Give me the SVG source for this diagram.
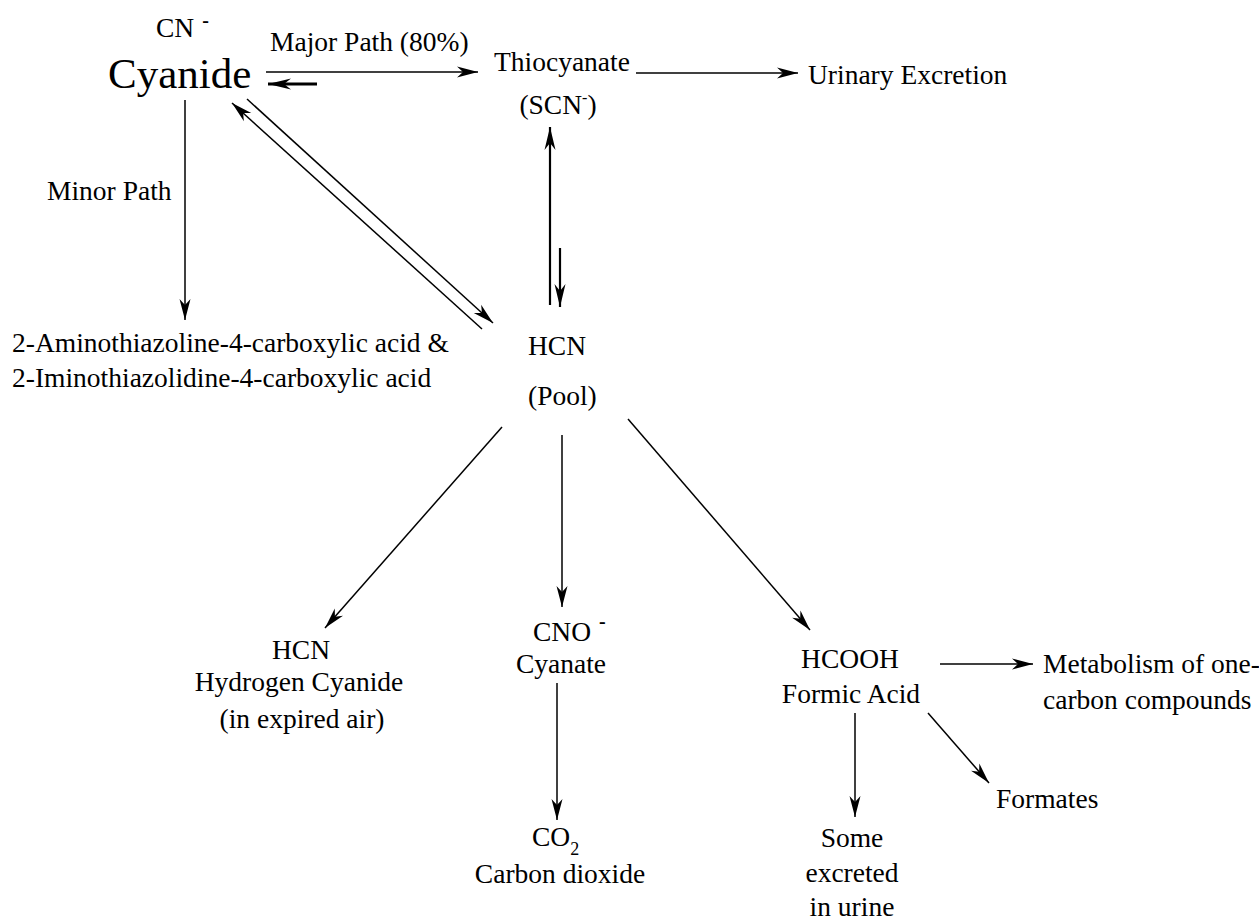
<svg xmlns="http://www.w3.org/2000/svg" width="1259" height="921" viewBox="0 0 1259 921" font-family="'Liberation Serif', 'Times New Roman', Tinos, 'DejaVu Serif', serif">
<style>
text{font-family:'Liberation Serif','Times New Roman',Tinos,'DejaVu Serif',serif;font-size:27.5px;fill:#000}
.big{font-size:43px}
.mid{text-anchor:middle}
.sup{font-weight:bold;font-size:20px}
.ln{fill:none;stroke:#000;stroke-width:1.5;marker-end:url(#ah)}
.bd{fill:none;stroke:#000;stroke-width:2.2;marker-end:url(#ahb)}
</style>
<defs>
<marker id="ah" markerUnits="userSpaceOnUse" viewBox="-22 -7 24 14" refX="0" refY="0" markerWidth="24" markerHeight="14" orient="auto">
<path d="M0,0 L-21,-5.5 L-15,0 L-21,5.5 Z" fill="#000"/>
</marker>
<marker id="ahb" markerUnits="userSpaceOnUse" viewBox="-26 -7 28 14" refX="0" refY="0" markerWidth="28" markerHeight="14" orient="auto">
<path d="M0,0 L-23,-5.5 L-16,0 L-23,5.5 Z" fill="#000"/>
</marker>
</defs>
<rect width="1259" height="921" fill="#fff"/>
<g id="connectors">
<line class="ln" x1="266" y1="72" x2="478" y2="72"/>
<line class="bd" x1="317" y1="84" x2="268" y2="84" style="stroke-width:3"/>
<line class="ln" x1="636" y1="73" x2="798" y2="73"/>
<line class="ln" x1="247" y1="99" x2="493" y2="323"/>
<line class="ln" x1="482" y1="329" x2="232" y2="103"/>
<line class="ln" x1="185" y1="100" x2="185" y2="320"/>
<line class="bd" x1="550" y1="305" x2="550" y2="127"/>
<line class="bd" x1="560" y1="248" x2="560" y2="307"/>
<line class="ln" x1="502" y1="427" x2="325" y2="628"/>
<line class="ln" x1="562" y1="435" x2="562" y2="607"/>
<line class="ln" x1="628" y1="419" x2="810" y2="630"/>
<line class="ln" x1="557" y1="683" x2="557" y2="820"/>
<line class="ln" x1="940" y1="664" x2="1033" y2="664"/>
<line class="ln" x1="855" y1="713" x2="855" y2="817"/>
<line class="ln" x1="928" y1="713" x2="989" y2="783"/>
</g>
<g id="cyanide">
<text x="156" y="37">CN<tspan class="sup" dx="8" dy="-10">-</tspan></text>
<text class="big" x="108" y="88">Cyanide</text>
</g>
<g id="major-path-label"><text x="270" y="51">Major Path (80%)</text></g>
<g id="minor-path-label"><text x="47" y="200">Minor Path</text></g>
<g id="thiocyanate">
<text x="494" y="71">Thiocyanate</text>
<text class="mid" x="558" y="114">(SCN<tspan font-size="16" dy="-11">-</tspan><tspan dy="11">)</tspan></text>
</g>
<g id="urinary-excretion"><text x="808" y="84">Urinary Excretion</text></g>
<g id="thiazoline-acids">
<text x="12" y="352">2-Aminothiazoline-4-carboxylic acid &amp;</text>
<text x="12" y="387">2-Iminothiazolidine-4-carboxylic acid</text>
</g>
<g id="hcn-pool">
<text x="528" y="355">HCN</text>
<text x="528" y="405">(Pool)</text>
</g>
<g id="hcn-expired">
<text class="mid" x="301" y="659">HCN</text>
<text class="mid" x="299" y="691">Hydrogen Cyanide</text>
<text class="mid" x="302" y="728">(in expired air)</text>
</g>
<g id="cyanate">
<text x="533" y="641">CNO<tspan class="sup" dx="8" dy="-13">-</tspan></text>
<text class="mid" x="561" y="673">Cyanate</text>
</g>
<g id="carbon-dioxide">
<text x="532" y="846">CO<tspan font-size="18" dy="9">2</tspan></text>
<text class="mid" x="560" y="883">Carbon dioxide</text>
</g>
<g id="formic-acid">
<text class="mid" x="850" y="668">HCOOH</text>
<text class="mid" x="851" y="703">Formic Acid</text>
</g>
<g id="one-carbon">
<text x="1043" y="673">Metabolism of one-</text>
<text x="1043" y="709">carbon compounds</text>
</g>
<g id="formates"><text x="996" y="808">Formates</text></g>
<g id="urine">
<text class="mid" x="852" y="847">Some</text>
<text class="mid" x="852" y="882">excreted</text>
<text class="mid" x="852" y="916">in urine</text>
</g>
</svg>
